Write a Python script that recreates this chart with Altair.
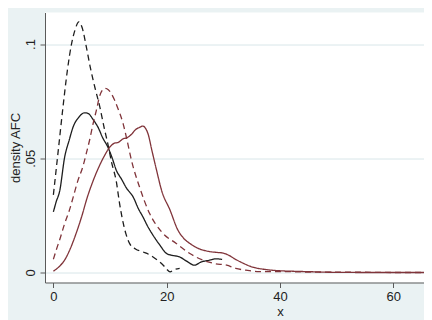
import altair as alt
import pandas as pd

# ---- data ----
bd_x = [0, 0.8, 1.7, 2.5, 3.2, 3.8, 4.5, 5.1, 5.8, 6.5, 7.3, 8.2, 9.0, 9.6, 10.3, 11.1, 11.7, 12.3, 12.8, 13.5, 14.5, 15.8, 16.8, 17.6, 18.6, 19.4, 20.0, 20.6, 21.3, 22.3]
bd_y = [0.034, 0.052, 0.0725, 0.089, 0.100, 0.106, 0.1097, 0.107, 0.099, 0.090, 0.0813, 0.0725, 0.063, 0.0565, 0.048, 0.040, 0.030, 0.022, 0.017, 0.0125, 0.0103, 0.009, 0.008, 0.0068, 0.005, 0.0032, 0.0015, 0.0003, 0.0012, 0.0018]

bs_x = [0, 0.5, 1.1, 2.0, 2.8, 3.5, 4.5, 5.5, 6.2, 7.0, 7.9, 8.7, 9.6, 10.4, 11.1, 12.0, 12.9, 14.1, 15.0, 15.8, 16.7, 17.6, 18.8, 20.0, 21.0, 22.3, 23.5, 24.9, 26.1, 27.6, 28.8, 29.8]
bs_y = [0.0265, 0.031, 0.0355, 0.0506, 0.058, 0.0638, 0.068, 0.0699, 0.0695, 0.067, 0.0635, 0.059, 0.055, 0.050, 0.0448, 0.041, 0.037, 0.033, 0.028, 0.0244, 0.020, 0.0163, 0.012, 0.0083, 0.0075, 0.0068, 0.005, 0.0032, 0.0046, 0.0054, 0.006, 0.0057]

rd_x = [0, 0.5, 1.2, 2.0, 2.8, 3.5, 4.3, 5.2, 5.8, 6.4, 7.0, 7.6, 8.2, 8.7, 9.1, 9.7, 10.2, 10.8, 11.4, 12.3, 13.0, 13.8, 15.2, 17.0, 19.1, 21.7, 24.1, 26.4, 28.5, 30.6, 32.2, 34.0, 36.3, 40, 45, 50, 55, 60, 68]
rd_y = [0.0058, 0.0098, 0.015, 0.0215, 0.027, 0.033, 0.040, 0.0463, 0.052, 0.058, 0.065, 0.0711, 0.0775, 0.080, 0.0806, 0.080, 0.0784, 0.0755, 0.0718, 0.0653, 0.058, 0.049, 0.0375, 0.0258, 0.0178, 0.0127, 0.0083, 0.0054, 0.0039, 0.0032, 0.0018, 0.001, 0.0004, 0.0004, 0.0002, 0.0001, 0.0001, 0.0, 0.0]

rs_x = [0, 1, 2, 3, 4, 5, 6, 7, 8, 9, 10, 10.7, 11.5, 12.3, 13, 13.8, 14.5, 15.2, 15.8, 16.3, 16.8, 17.3, 18.2, 19.1, 20.6, 22, 23, 24.1, 25.2, 26.4, 27.5, 28.8, 30, 31, 32, 33.4, 35, 37.5, 40.5, 43, 46, 49, 55, 68]
rs_y = [0.0006, 0.0025, 0.0055, 0.0105, 0.017, 0.0245, 0.033, 0.040, 0.046, 0.051, 0.055, 0.0565, 0.057, 0.0585, 0.059, 0.0605, 0.0625, 0.0635, 0.0641, 0.063, 0.060, 0.0545, 0.045, 0.036, 0.0273, 0.0185, 0.015, 0.0127, 0.011, 0.0098, 0.0092, 0.0088, 0.0085, 0.0075, 0.006, 0.0042, 0.0025, 0.0013, 0.0007, 0.0005, 0.0003, 0.0001, 0.0, 0.0]

series_names = ["black dashed", "black solid", "red dashed", "red solid"]
series_colors = ["#1e1e1e", "#1e1e1e", "#80343a", "#80343a"]
series_dash = [[6, 4], [1, 0], [6, 4], [1, 0]]

x_ticks = [0, 20, 40, 60]
y_ticks = [0, 0.05, 0.1]
y_tick_labels = ["0", ".05", ".1"]

rows = []
for name, xs, ys in zip(series_names, [bd_x, bs_x, rd_x, rs_x], [bd_y, bs_y, rd_y, rs_y]):
    for i, (a, b) in enumerate(zip(xs, ys)):
        rows.append({"series": name, "x": a, "y": b, "order": i})
df = pd.DataFrame(rows)

label_map = "{" + ",".join(f"'{v}':'{l}'" for v, l in zip(y_ticks, y_tick_labels)) + "}"

W = 379
H = 270

chart = alt.Chart(df).mark_line(clip=True, strokeWidth=1.3, interpolate="monotone").encode(
    x=alt.X("x:Q", scale=alt.Scale(domain=[-1.48, 65.45], nice=False, zero=False),
            axis=alt.Axis(values=x_ticks, title="x", grid=False, tickSize=5, labelPadding=3,
                          titleX=235, titleY=33, titleBaseline="alphabetic", titleAlign="center")),
    y=alt.Y("y:Q", scale=alt.Scale(domain=[-0.00438, 0.1138], nice=False, zero=False),
            axis=alt.Axis(values=y_ticks, title="density AFC", grid=True, tickSize=5, labelPadding=3,
                          labelAngle=270, labelAlign="center", labelBaseline="bottom",
                          labelExpr=label_map + "[datum.value]",
                          titleAngle=270, titleX=-26, titleY=H / 2, titleAlign="center",
                          titleBaseline="alphabetic")),
    color=alt.Color("series:N", scale=alt.Scale(domain=series_names, range=series_colors), legend=None),
    strokeDash=alt.StrokeDash("series:N", scale=alt.Scale(domain=series_names, range=series_dash), legend=None),
    detail="series:N",
    order="order:Q",
).properties(
    width=W, height=H,
    autosize=alt.AutoSizeParams(type="none"),
    padding={"left": 37, "top": 4.5, "right": 0, "bottom": 38},
).configure(
    background="#eaf2f3",
    font="Liberation Sans",
).configure_view(
    fill="white", stroke=None,
).configure_axis(
    domainColor="#5a5a5a", tickColor="#5a5a5a", labelColor="#222222", titleColor="#222222",
    labelFont="Liberation Sans", titleFont="Liberation Sans",
    labelFontSize=13, titleFontSize=13, titleFontWeight="normal",
    gridColor="#d8e6e9", gridWidth=1, domainWidth=1, tickWidth=1,
)

chart.save("out.html", embed_options={"renderer": "svg", "actions": False})
